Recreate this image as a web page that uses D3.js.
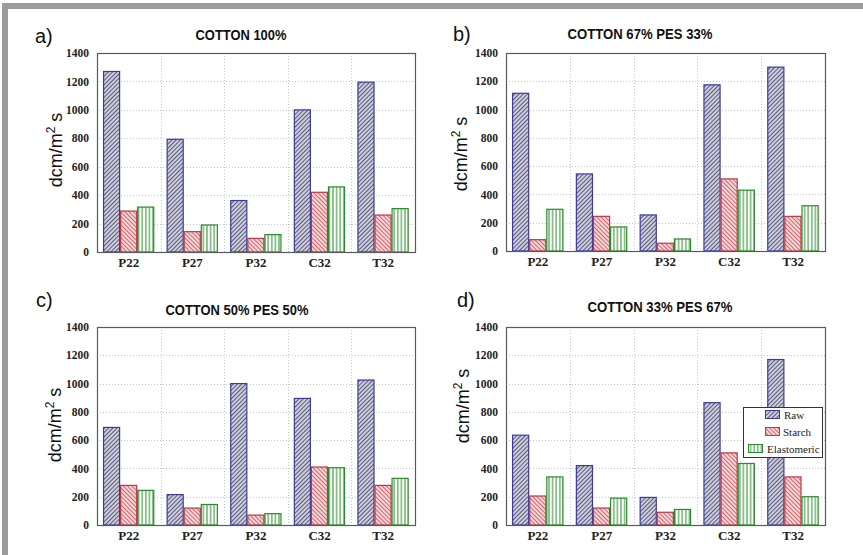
<!DOCTYPE html>
<html>
<head>
<meta charset="utf-8">
<script src="https://cdn.jsdelivr.net/npm/d3@7/dist/d3.min.js"></script>
<style>
  html, body { margin: 0; padding: 0; background: #fff; }
  svg { display: block; }
  .serif text, text.serif { font-family: 'Liberation Serif', 'Times New Roman', serif; }
</style>
</head>
<body>
<svg id="chart" width="863" height="555"></svg>
<script>
// ---- data ----
const categories = ["P22", "P27", "P32", "C32", "T32"];
const seriesNames = ["Raw", "Starch", "Elastomeric"];
const yTicks = [0, 200, 400, 600, 800, 1000, 1200, 1400];

const titles = ["COTTON 100%", "COTTON 67% PES 33%", "COTTON 50% PES 50%", "COTTON 33% PES 67%"];
const panelLetters = ["a)", "b)", "c)", "d)"];

const cotton100Raw    = [1270, 793, 362, 1000, 1195];
const cotton100Starch = [288, 143, 96, 420, 260];
const cotton100Elast  = [316, 190, 122, 458, 305];

const cotton67Raw    = [1115, 545, 255, 1175, 1300];
const cotton67Starch = [80, 245, 55, 510, 245];
const cotton67Elast  = [295, 170, 85, 430, 320];

const cotton50Raw    = [690, 215, 1000, 895, 1025];
const cotton50Starch = [280, 120, 70, 410, 280];
const cotton50Elast  = [245, 145, 80, 405, 330];

const cotton33Raw    = [635, 420, 195, 865, 1170];
const cotton33Starch = [205, 120, 90, 510, 340];
const cotton33Elast  = [340, 190, 110, 435, 200];

const panelData = [
  [cotton100Raw, cotton100Starch, cotton100Elast],
  [cotton67Raw, cotton67Starch, cotton67Elast],
  [cotton50Raw, cotton50Starch, cotton50Elast],
  [cotton33Raw, cotton33Starch, cotton33Elast]
];

// ---- layout ----
const panels = [
  { x0: 97,  x1: 415, y0: 53,  y1: 252, tx: 241, ty: 40,  tw: 91,  lx: 35,  ly: 43,  yx: 62,  yy: 150 },
  { x0: 506, x1: 825, y0: 53,  y1: 251, tx: 640, ty: 39,  tw: 145, lx: 453, ly: 41,  yx: 467, yy: 154 },
  { x0: 97,  x1: 415, y0: 327, y1: 525, tx: 237, ty: 315, tw: 143, lx: 36,  ly: 307, yx: 61,  yy: 425 },
  { x0: 506, x1: 825, y0: 327, y1: 525, tx: 660, ty: 312, tw: 145, lx: 457, ly: 307, yx: 469, yy: 406 }
];

const strokeColors = { Raw: "#3b3b9e", Starch: "#b83a46", Elastomeric: "#2b8a2b" };
const fills = { Raw: "url(#hatchRaw)", Starch: "url(#hatchStarch)", Elastomeric: "url(#hatchElast)" };

const svg = d3.select("#chart");

// patterns
const defs = svg.append("defs");
function pattern(id, bg, line, w, angle, sw) {
  const p = defs.append("pattern")
    .attr("id", id).attr("patternUnits", "userSpaceOnUse")
    .attr("width", w).attr("height", w)
    .attr("patternTransform", `rotate(${angle})`);
  p.append("rect").attr("width", w).attr("height", w).attr("fill", bg);
  p.append("line").attr("x1", w / 2).attr("y1", 0).attr("x2", w / 2).attr("y2", w)
    .attr("stroke", line).attr("stroke-width", sw);
}
pattern("hatchRaw", "#e2e2ec", "#5a5a7c", 3, 45, 1.3);
pattern("hatchStarch", "#f6e0e0", "#cf6a74", 3, -45, 1.2);
pattern("hatchElast", "#ffffff", "#3d9a3d", 3.6, 0, 1.1);

// outer frame (top and left visible)
svg.append("rect").attr("x", 2).attr("y", 3).attr("width", 861).attr("height", 6).attr("fill", "#9c9c9c");
svg.append("rect").attr("x", 2).attr("y", 3).attr("width", 6).attr("height", 552).attr("fill", "#9c9c9c");

panels.forEach((pn, i) => {
  const g = svg.append("g");
  const x0 = d3.scaleBand().domain(categories).range([pn.x0, pn.x1]).padding(0);
  const step = x0.bandwidth();
  const x1 = d3.scaleBand().domain(seriesNames).range([step * 0.095, step * 0.9]).padding(0);
  const y = d3.scaleLinear().domain([0, 1400]).range([pn.y1, pn.y0]);

  // grid
  g.append("g").selectAll("line.h").data(yTicks.filter(t => t > 0 && t < 1400)).join("line")
    .attr("x1", pn.x0).attr("x2", pn.x1)
    .attr("y1", d => Math.round(y(d)) + 0.5).attr("y2", d => Math.round(y(d)) + 0.5)
    .attr("stroke", "#c4c4c4").attr("stroke-width", 1).attr("stroke-dasharray", "1,2");
  g.append("g").selectAll("line.v").data(categories.slice(1)).join("line")
    .attr("x1", d => Math.round(x0(d)) + 0.5).attr("x2", d => Math.round(x0(d)) + 0.5)
    .attr("y1", pn.y0).attr("y2", pn.y1)
    .attr("stroke", "#c4c4c4").attr("stroke-width", 1).attr("stroke-dasharray", "1,2");

  // bars
  const rows = [];
  categories.forEach((c, ci) => {
    seriesNames.forEach((s, si) => rows.push({ c, s, v: panelData[i][si][ci] }));
  });
  g.append("g").selectAll("rect").data(rows).join("rect")
    .attr("x", d => x0(d.c) + x1(d.s) + 0.5)
    .attr("y", d => y(d.v))
    .attr("width", x1.bandwidth() - 1)
    .attr("height", d => y(0) - y(d.v))
    .attr("fill", d => fills[d.s])
    .attr("stroke", d => strokeColors[d.s])
    .attr("stroke-width", 1.2);

  // frame
  g.append("rect").attr("x", pn.x0 + 0.5).attr("y", pn.y0 + 0.5)
    .attr("width", pn.x1 - pn.x0).attr("height", pn.y1 - pn.y0)
    .attr("fill", "none").attr("stroke", "#5a5a5a").attr("stroke-width", 1.2);

  // y axis
  const ya = g.append("g").attr("class", "serif").attr("transform", `translate(${pn.x0},0)`)
    .call(d3.axisLeft(y).tickValues(yTicks).tickSize(0).tickPadding(8).tickFormat(d3.format("d")));
  ya.attr("font-family", null);
  ya.select(".domain").remove();
  ya.selectAll("text")
    .style("font-family", "'Liberation Serif', 'Times New Roman', serif")
    .style("font-size", "11.5px").style("font-weight", "bold").attr("fill", "#222");

  // x axis
  const xa = g.append("g").attr("class", "serif").attr("transform", `translate(0,${pn.y1})`)
    .call(d3.axisBottom(x0).tickSize(0).tickPadding(6));
  xa.attr("font-family", null);
  xa.select(".domain").remove();
  xa.selectAll("text")
    .style("font-family", "'Liberation Serif', 'Times New Roman', serif")
    .style("font-size", "13px").style("font-weight", "bold").attr("fill", "#222");

  // title
  g.append("text").attr("x", pn.tx).attr("y", pn.ty).attr("text-anchor", "middle")
    .attr("font-family", "'Liberation Sans Narrow', 'Arial Narrow', 'Liberation Sans', Arial, sans-serif")
    .attr("font-weight", "bold").attr("font-size", 15).attr("fill", "#111")
    .attr("textLength", pn.tw).attr("lengthAdjust", "spacingAndGlyphs")
    .text(titles[i]);

  // panel letter
  g.append("text").attr("x", pn.lx).attr("y", pn.ly)
    .attr("font-family", "'Liberation Sans', Arial, sans-serif")
    .attr("font-size", 20).attr("fill", "#111").text(panelLetters[i]);

  // y label
  const yl = g.append("text")
    .attr("transform", `translate(${pn.yx},${pn.yy}) rotate(-90)`)
    .attr("text-anchor", "middle")
    .attr("font-family", "'Liberation Sans', Arial, sans-serif")
    .attr("font-size", 18).attr("fill", "#111");
  yl.append("tspan").text("dcm/m");
  yl.append("tspan").attr("font-size", 12).attr("dy", -7).text("2");
  yl.append("tspan").attr("dy", 7).text(" s");
});

// legend (panel d)
const lg = svg.append("g");
lg.append("rect").attr("x", 743.5).attr("y", 407.5).attr("width", 79).attr("height", 50)
  .attr("fill", "#fff").attr("stroke", "#333").attr("stroke-width", 1);
const legendRows = [
  { s: "Raw", sx: 765, tx: 784, y: 415 },
  { s: "Starch", sx: 765, tx: 783, y: 432 },
  { s: "Elastomeric", sx: 748, tx: 767, y: 449 }
];
lg.selectAll("rect.sw").data(legendRows).join("rect").attr("class", "sw")
  .attr("x", d => d.sx + 0.5).attr("y", d => d.y - 4.5).attr("width", 14).attr("height", 8)
  .attr("fill", d => fills[d.s]).attr("stroke", d => strokeColors[d.s]).attr("stroke-width", 1);
lg.selectAll("text.lt").data(legendRows).join("text").attr("class", "lt")
  .attr("x", d => d.tx).attr("y", d => d.y + 3.5)
  .style("font-family", "'Liberation Serif', 'Times New Roman', serif")
  .attr("font-size", 11).attr("fill", "#222")
  .text(d => d.s);
</script>
</body>
</html>
